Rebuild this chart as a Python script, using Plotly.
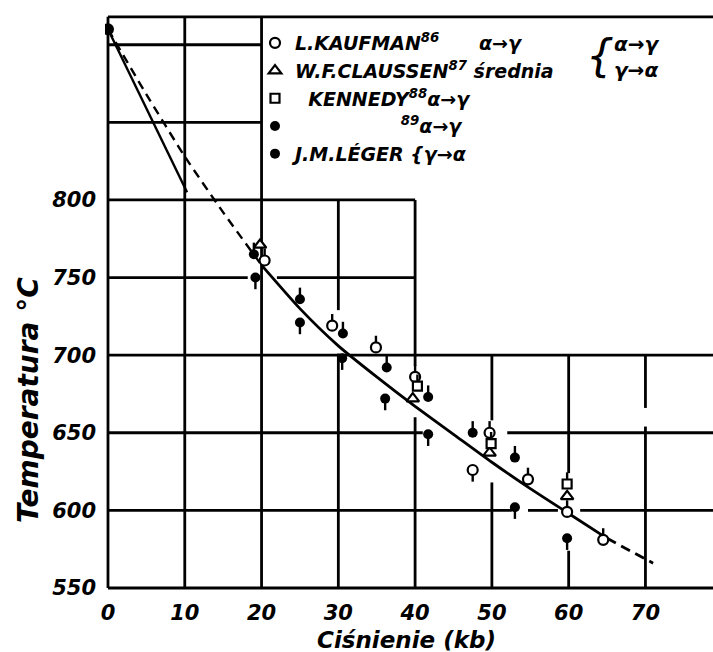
import plotly.graph_objects as go

# ---- data: pressure (kb) and alpha/gamma transition temperature (°C) ----
kaufman_p = [20.4, 29.2, 34.9, 40.0, 47.5, 49.7, 54.7, 59.8, 64.5]
kaufman_t = [761, 719, 705, 686, 626, 650, 620, 599, 581]

claussen_p = [19.8, 39.7, 49.7, 59.8]
claussen_t = [771, 672, 637, 609]

kennedy_p = [40.3, 49.9, 59.8]
kennedy_t = [680, 643, 617]

leger_ag_p = [19.0, 25.0, 30.6, 36.3, 41.7, 47.5, 53.0]
leger_ag_t = [765, 736, 714, 692, 673, 650, 634]

leger_ga_p = [19.2, 25.0, 30.5, 36.1, 41.7, 53.0, 59.8]
leger_ga_t = [750, 721, 698, 672, 649, 602, 582]

start_p = [0]
start_t = [910]

# phase boundary curves
branch_p = [0, 10.3]
branch_t = [910, 805]
dashed_p = [0, 5, 10, 15, 20]
dashed_t = [910, 868, 828, 792, 758]
main_p = [20, 25, 30, 35, 40, 45, 50, 55, 60, 65]
main_t = [758, 730, 706, 686, 667, 649, 631, 614, 598, 582]
ext_p = [65, 71]
ext_t = [582, 566]

x_ticks = [0, 10, 20, 30, 40, 50, 60, 70]
y_ticks = [550, 600, 650, 700, 750, 800]

# ---- styling ----
INK = "black"
FONT = "DejaVu Sans"
STEM = 7.5  # stem length in °C
NB = "\u00a0"
W, H = 713, 652
ML, MR, MT, MB = 105, 0, 14, 62
X_RANGE = [-0.39, 78.8]
Y_RANGE = [548.7, 919.8]


def px_x(px):
    return (px - ML) / (W - ML - MR)


def px_y(py):
    return 1 - (py - MT) / (H - MT - MB)


def stems(n, up=True, down_idx=()):
    ups, downs = [], []
    for i in range(n):
        if (i in down_idx) != (not up):
            ups.append(0)
            downs.append(STEM)
        else:
            ups.append(STEM)
            downs.append(0)
    return ups, downs


def err(ups, downs):
    return dict(type="data", symmetric=False, array=ups, arrayminus=downs,
                width=0, thickness=2.4, color=INK)


fig = go.Figure()

# boundary lines
fig.add_trace(go.Scatter(x=branch_p, y=branch_t, mode="lines", showlegend=False,
                         line=dict(color=INK, width=2.4), hoverinfo="skip"))
fig.add_trace(go.Scatter(x=dashed_p, y=dashed_t, mode="lines", showlegend=False,
                         line=dict(color=INK, width=2.4, dash="9px,6px", shape="spline",
                                   smoothing=0.5),
                         hoverinfo="skip"))
fig.add_trace(go.Scatter(x=main_p, y=main_t, mode="lines", showlegend=False,
                         line=dict(color=INK, width=2.8, shape="spline", smoothing=0.6),
                         hoverinfo="skip"))
fig.add_trace(go.Scatter(x=ext_p, y=ext_t, mode="lines", showlegend=False,
                         line=dict(color=INK, width=2.8, dash="10px,6px"),
                         hoverinfo="skip"))

open_mk = dict(color="white", line=dict(color=INK, width=2.2))

u, d = stems(len(kaufman_p), up=True, down_idx=(4,))
fig.add_trace(go.Scatter(x=kaufman_p, y=kaufman_t, mode="markers",
                         name="L.KAUFMAN<sup>86</sup>" + NB * 6 + "α→γ",
                         marker=dict(symbol="circle", size=10, **open_mk),
                         error_y=err(u, d)))

fig.add_trace(go.Scatter(x=claussen_p, y=claussen_t, mode="markers",
                         name="W.F.CLAUSSEN<sup>87</sup> średnia",
                         marker=dict(symbol="triangle-up", size=11, **open_mk)))

u, d = stems(len(kennedy_p), up=True)
fig.add_trace(go.Scatter(x=kennedy_p, y=kennedy_t, mode="markers",
                         name=NB * 2 + "KENNEDY<sup>88</sup>α→γ",
                         marker=dict(symbol="square", size=9, **open_mk),
                         error_y=err(u, d)))

u, d = stems(len(leger_ag_p), up=True)
fig.add_trace(go.Scatter(x=leger_ag_p, y=leger_ag_t, mode="markers",
                         name=NB * 16 + "<sup>89</sup>α→γ",
                         marker=dict(symbol="circle", size=10, color=INK),
                         error_y=err(u, d)))

u, d = stems(len(leger_ga_p), up=False)
fig.add_trace(go.Scatter(x=leger_ga_p, y=leger_ga_t, mode="markers",
                         name="J.M.LÉGER {γ→α",
                         marker=dict(symbol="circle", size=10, color=INK),
                         error_y=err(u, d)))

fig.add_trace(go.Scatter(x=start_p, y=start_t, mode="markers", showlegend=False,
                         marker=dict(symbol="circle", size=12, color=INK)))

# hand-ruled grid: vertical (x, y0, y1) and horizontal (y, x0, x1) segments
v_segments = [
    (0, 550, 918), (10, 550, 918), (20, 550, 918),
    (30, 550, 701), (30, 729, 800),
    (40, 550, 660), (40, 693, 800),
    (50, 550, 618), (50, 658, 700),
    (60, 550, 574), (60, 624, 700),
    (70, 550, 654), (70, 666, 700),
]
h_segments = [
    (918, 0, 80), (900, 0, 20), (850, 0, 20), (800, 0, 40),
    (750, 0, 18.2), (750, 22, 40),
    (700, 0, 80),
    (650, 0, 41), (650, 52, 80),
    (600, 0, 52.6), (600, 54.7, 58.6), (600, 61.5, 80),
    (550, 0, 80),
]
shapes = []
for xv, y0, y1 in v_segments:
    shapes.append(dict(type="line", xref="x", yref="y", x0=xv, x1=xv, y0=y0, y1=y1,
                       line=dict(color=INK, width=2.8), layer="below"))
for yv, x0, x1 in h_segments:
    shapes.append(dict(type="line", xref="x", yref="y", x0=x0, x1=x1, y0=yv, y1=yv,
                       line=dict(color=INK, width=2.8), layer="below"))

lab_font = dict(family=FONT, size=21, color=INK, weight="bold", style="italic")

annotations = [
    dict(text="Temperatura °C", xref="paper", yref="paper", x=px_x(28), y=px_y(400),
         textangle=-90, showarrow=False, xanchor="center", yanchor="middle",
         font=dict(family=FONT, size=28, color=INK, weight="bold", style="italic")),
    dict(text="Ciśnienie (kb)", xref="paper", yref="paper", x=px_x(406), y=px_y(640),
         showarrow=False, xanchor="center", yanchor="middle",
         font=dict(family=FONT, size=23, color=INK, weight="bold", style="italic")),
    dict(text="{", xref="paper", yref="paper", x=px_x(600), y=px_y(55),
         showarrow=False, xanchor="center", yanchor="middle",
         font=dict(family=FONT, size=44, color=INK, style="italic")),
    dict(text="α→γ<br>γ→α", xref="paper", yref="paper", x=px_x(612), y=px_y(57),
         showarrow=False, xanchor="left", yanchor="middle", align="left",
         font=dict(family=FONT, size=20, color=INK, weight="bold", style="italic")),
]

fig.update_layout(
    width=W, height=H,
    margin=dict(l=ML, r=MR, t=MT, b=MB),
    paper_bgcolor="white", plot_bgcolor="white",
    shapes=shapes, annotations=annotations,
    xaxis=dict(range=X_RANGE, showgrid=False, zeroline=False, showline=False,
               tickvals=x_ticks, ticktext=[str(v) for v in x_ticks], ticks="",
               tickfont=lab_font, ticklabelstandoff=8),
    yaxis=dict(range=Y_RANGE, showgrid=False, zeroline=False, showline=False,
               tickvals=y_ticks, ticktext=[str(v) for v in y_ticks], ticks="",
               tickfont=lab_font, ticklabelstandoff=8),
    legend=dict(x=px_x(255), y=px_y(24), xanchor="left", yanchor="top",
                bgcolor="rgba(0,0,0,0)", borderwidth=0, tracegroupgap=0,
                font=dict(family=FONT, size=19, color=INK, weight="bold", style="italic")),
    showlegend=True,
)

fig.write_html("out.html")
